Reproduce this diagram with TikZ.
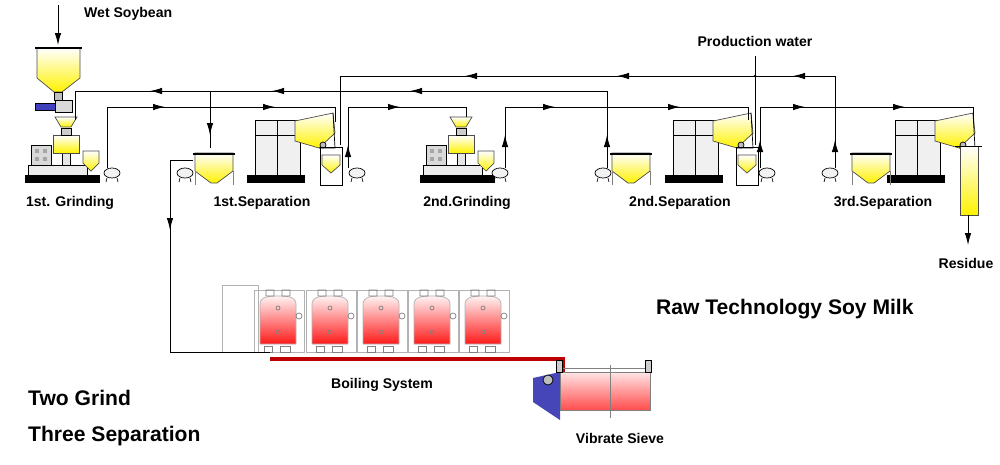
\documentclass[tikz,border=0pt]{standalone}
\usepackage{fontspec}
\setmainfont{Liberation Sans}
\usetikzlibrary{arrows.meta,shapes.geometric}

\tikzset{
  pipe/.style={draw=black, line width=0.5pt},
  tip/.style={-{Latex[length=2.4mm,width=1.3mm]}, line width=0.5pt},
  lbl/.style={font=\bfseries\footnotesize, anchor=center},
  big/.style={font=\bfseries\large, anchor=west},
  yfill/.style={draw=black!70, top color=white, bottom color=yellow!90!orange, line width=0.4pt},
  pump/.pic={
    \draw[fill=gray!10, line width=0.4pt] (0,0) ellipse (8 and 5);
    \draw[line width=0.4pt] (-5,5)--(-6,9) (5,5)--(6,9);
  },
  grinder/.pic={
    \fill[black] (0,-8) rectangle (75,0);
    \draw[fill=gray!15] (3,-18) rectangle (62,-8);
    \draw[fill=gray!30] (6,-38) rectangle (26,-18);
    \foreach \i/\j in {10/-34,18/-34,10/-26,18/-26} \fill[gray!70] (\i,\j) rectangle ++(4,4);
    \draw[fill=gray!20] (37,-30) rectangle (45,-18);
    \draw[yfill] (28,-48) rectangle (54,-30);
    \draw[fill=gray!40] (36,-55) rectangle (46,-48);
    \draw[yfill] (30,-66) -- (52,-66) -- (46,-56) -- (36,-56) -- cycle;
    \draw[yfill] (58,-32) -- (74,-32) -- (74,-20) -- (66,-12) -- (58,-20) -- cycle;
  },
  separator/.pic={
    \fill[black] (0,-8) rectangle (58,0);
    \draw[fill=gray!12] (8,-63) rectangle (53,-8);
    \draw (30,-63)--(30,-8) (8,-48)--(53,-48);
    \draw[yfill] (48,-62) -- (86,-70) -- (88,-50) -- (72,-35) -- (48,-42) -- cycle;
    \draw (86,-70)--(88,-35)--(72,-35);
    \draw[fill=gray!50] (76,-38) circle (3);
  },
  feedtank/.pic={
    \draw[yfill] (0,0) -- (38,0) -- (38,18) -- (22,30) -- (16,30) -- (0,18) -- cycle;
    \draw[line width=0.8pt] (-2,1)--(40,1);
    \draw[gray] (0,18)--(0,32) (38,18)--(38,32);
  },
  smalltank/.pic={
    \draw (0,0) rectangle (22,-38);
    \draw[yfill] (2,-30) -- (20,-30) -- (20,-20) -- (11,-12) -- (2,-20) -- cycle;
  },
  boiler/.pic={
    \draw[gray!60] (-24,-62) rectangle (26,0);
    \draw[draw=gray!60, top color=red!5, bottom color=red!90] (-18,-8) -- (18,-8) -- (18,-48) to[out=90,in=0] (0,-56) to[out=180,in=90] (-18,-48) -- cycle;
    \draw[gray] (0,-44) circle (2) (0,-20) circle (2);
    \draw[gray] (-12,-62) rectangle (-4,-56) (4,-62) rectangle (12,-56) (21,-36) circle (3);
    \draw[gray] (-14,-6) rectangle (-6,0) (2,-6) rectangle (12,0);
  }
}

\begin{document}
\begin{tikzpicture}[x=0.02cm, y=-0.02cm]
\useasboundingbox (0,0) rectangle (1000,464);

% equipment
\draw[yfill] (37,48) -- (80,48) -- (80,78) -- (62,92) -- (54,92) -- (37,78) -- cycle;
\draw[line width=0.8pt] (35,48)--(82,48);
\draw[fill=gray!50] (54,92) rectangle (62,100);
\draw[fill=blue!50!gray] (35,103) rectangle (55,110);
\draw[fill=gray!30] (55,100) rectangle (72,112);
\pic at (25,183) {grinder};
\pic at (420,183) {grinder};
\pic at (247,183) {separator};
\pic at (665,183) {separator};
\pic at (887,183) {separator};
\pic at (320,185) {smalltank};
\pic at (736,185) {smalltank};
\pic at (195,153) {feedtank};
\pic at (612,153) {feedtank};
\pic at (852,153) {feedtank};
\foreach \p in {112,185,357,500,603,767,830} \pic at (\p,173) {pump};
\draw[yfill] (960,146) rectangle (978,215);
\draw (955,146)--(982,146);

% boiling system
\draw[gray!60] (222,285) rectangle (258,352);
\foreach \c in {278,330,381,432,483} \pic at (\c,352) {boiler};
\draw[red!75!black, line width=2.2pt] (270,359) -- (563,359) -- (563,382);
\fill[blue!45!gray] (533,378) -- (560,372) -- (560,420) -- (533,402) -- cycle;
\draw[top color=red!10, bottom color=red!70, draw=gray] (560,372) rectangle (650,410);
\draw[gray] (560,368)--(650,368) (610,365)--(610,418);
\draw[fill=gray!40] (556,360) rectangle (562,372) (645,360) rectangle (651,372);
\draw[fill=gray!50] (548,380) circle (5);

% pipes
\coordinate (feed) at (58,5);
\draw[tip] (feed) -- (58,45);
\draw[pipe] (75,120) -- (75,91) -- (607,91) -- (607,168);
\draw[pipe] (210,91) -- (210,148);
\draw[pipe] (340,145) -- (340,76) -- (835,76) -- (835,168);
\draw[pipe] (755,56) -- (755,145);
\fill (755,76) circle (1.3);
\draw[pipe] (107,168) -- (107,107) -- (335,107) -- (335,122);
\draw[pipe] (348,168) -- (348,107) -- (466,107) -- (466,117);
\draw[pipe] (505,168) -- (505,107) -- (748,107) -- (748,120);
\draw[pipe] (760,168) -- (760,107) -- (973,107) -- (973,120);
\draw[pipe] (193,160) -- (170,160) -- (170,352) -- (270,352);
\draw[tip] (968,215) -- (968,245);
% arrow heads, leftward / rightward / up / down
\foreach \x/\y in {150/91,272/91,410/91,465/76,617/76,793/76}
  \draw[tip] (\x+8,\y) -- (\x,\y);
\foreach \x/\y in {165/107,275/107,400/107,555/107,680/107,805/107,905/107}
  \draw[tip] (\x-8,\y) -- (\x,\y);
\foreach \x/\y in {348/145,505/135,607/135,760/140,835/140}
  \draw[tip] (\x,\y+8) -- (\x,\y);
\foreach \x/\y in {210/135,170/230}
  \draw[tip] (\x,\y-8) -- (\x,\y);

% labels
\node[font=\bfseries\footnotesize, anchor=west] (wet) at (78,14) {Wet Soybean};
\node[lbl] (water) at (755,41) {Production water};
\node[lbl] (g1) at (70,203) {1st. Grinding};
\node[lbl] (s1) at (262,203) {1st.Separation};
\node[lbl] (g2) at (467,203) {2nd.Grinding};
\node[lbl] (s2) at (680,203) {2nd.Separation};
\node[lbl] (s3) at (883,203) {3rd.Separation};
\node[lbl] (res) at (966,263) {Residue};
\node[lbl] (boil) at (382,385) {Boiling System};
\node[lbl] (sieve) at (620,438) {Vibrate Sieve};
\node[big] (raw) at (650,309) {Raw Technology Soy Milk};
\node[big] (two) at (22,398) {Two Grind};
\node[big] (three) at (22,436) {Three Separation};
\end{tikzpicture}
\end{document}
